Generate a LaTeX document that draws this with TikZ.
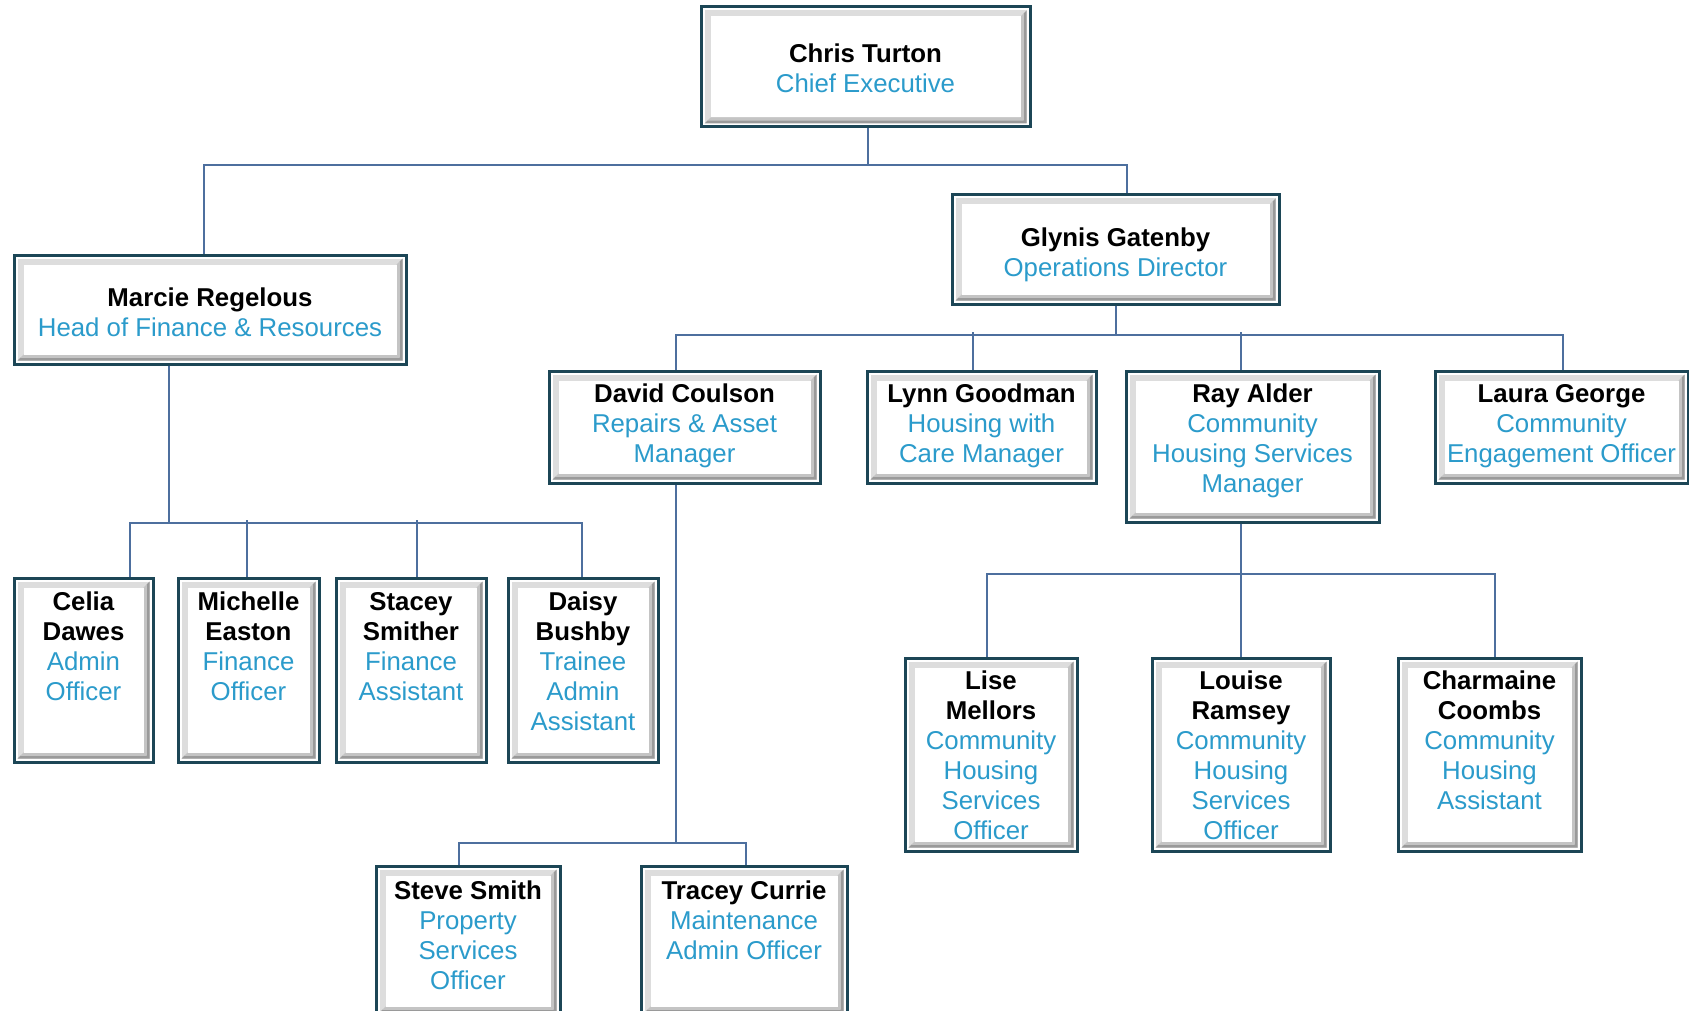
\documentclass[tikz,border=0pt]{standalone}
\usepackage{fontspec}
\setmainfont{Liberation Sans}
\definecolor{boxline}{HTML}{1C4656}
\definecolor{conncol}{HTML}{4D6F9E}
\definecolor{rolecol}{HTML}{2B9BCB}
\definecolor{bevlight}{HTML}{DDDDDD}
\definecolor{bevdark}{HTML}{9A9A9A}
\definecolor{bevmid}{HTML}{C4C4C4}
\tikzset{
 obox/.style={draw=boxline, line width=3pt, fill=white, inner sep=0pt},
 otext/.style={anchor=north, align=center, inner sep=0pt, font=\fontsize{25.8}{30}\selectfont},
 conn/.style={draw=conncol, line width=2pt},
}
\newcommand{\rl}[1]{\textcolor{rolecol}{#1}}
\newcommand{\orgbox}[7]{%
 \node[obox, minimum width=#4pt, minimum height=#5pt] (#1) at (#2pt,-#3pt) {};
 \fill[bevlight] ([shift={(5pt,-5pt)}]#1.north west) rectangle ([shift={(-5pt,5pt)}]#1.south east);
 \fill[bevdark] ([shift={(-5pt,-5pt)}]#1.north east) -- ([shift={(-5pt,5pt)}]#1.south east) -- ([shift={(5pt,5pt)}]#1.south west) -- ([shift={(8pt,8pt)}]#1.south west) -- ([shift={(-8pt,8pt)}]#1.south east) -- ([shift={(-8pt,-8pt)}]#1.north east) -- cycle;
 \fill[bevmid] ([shift={(-8pt,-8pt)}]#1.north east) -- ([shift={(-8pt,8pt)}]#1.south east) -- ([shift={(8pt,8pt)}]#1.south west) -- ([shift={(11pt,11pt)}]#1.south west) -- ([shift={(-11pt,11pt)}]#1.south east) -- ([shift={(-11pt,-11pt)}]#1.north east) -- cycle;
 \fill[white] ([shift={(11pt,-11pt)}]#1.north west) rectangle ([shift={(-11pt,11pt)}]#1.south east);
 \node[otext] (#1-t) at ([yshift=-#6pt]#1.north) {#7};
}
\begin{document}
\begin{tikzpicture}
\useasboundingbox (0pt,0pt) rectangle (1689pt,-1011pt);
\fill[white] (0pt,0pt) rectangle (1689pt,-1011pt);

\orgbox{chris}{865.5}{67}{329}{120}{38.5}{\textbf{Chris Turton}\\\rl{Chief Executive}}
\orgbox{glynis}{1115.5}{249.5}{327}{109}{34.5}{\textbf{Glynis Gatenby}\\\rl{Operations Director}}
\orgbox{marcie}{210}{309.5}{392}{109}{34.5}{\textbf{Marcie Regelous}\\\rl{Head of Finance \& Resources}}
\orgbox{david}{684.5}{427}{271}{112}{14.5}{\textbf{David Coulson}\\\rl{Repairs \& Asset}\\\rl{Manager}}
\orgbox{lynn}{981.5}{427}{229}{112}{14.5}{\textbf{Lynn Goodman}\\\rl{Housing with}\\\rl{Care Manager}}
\orgbox{ray}{1252.5}{446.5}{253}{151}{14.5}{\textbf{Ray Alder}\\\rl{Community}\\\rl{Housing Services}\\\rl{Manager}}
\orgbox{laura}{1561.5}{427}{253}{112}{14.5}{\textbf{Laura George}\\\rl{Community}\\\rl{Engagement Officer}}
\orgbox{celia}{83.5}{670}{139}{184}{15.5}{\textbf{Celia}\\\textbf{Dawes}\\\rl{Admin}\\\rl{Officer}}
\orgbox{michelle}{248.5}{670}{141}{184}{15.5}{\textbf{Michelle}\\\textbf{Easton}\\\rl{Finance}\\\rl{Officer}}
\orgbox{stacey}{411}{670}{150}{184}{15.5}{\textbf{Stacey}\\\textbf{Smither}\\\rl{Finance}\\\rl{Assistant}}
\orgbox{daisy}{583}{670}{150}{184}{15.5}{\textbf{Daisy}\\\textbf{Bushby}\\\rl{Trainee}\\\rl{Admin}\\\rl{Assistant}}
\orgbox{lise}{991}{754.5}{172}{193}{14.5}{\textbf{Lise}\\\textbf{Mellors}\\\rl{Community}\\\rl{Housing}\\\rl{Services}\\\rl{Officer}}
\orgbox{louise}{1241}{754.5}{178}{193}{14.5}{\textbf{Louise}\\\textbf{Ramsey}\\\rl{Community}\\\rl{Housing}\\\rl{Services}\\\rl{Officer}}
\orgbox{charmaine}{1489.5}{754.5}{183}{193}{14.5}{\textbf{Charmaine}\\\textbf{Coombs}\\\rl{Community}\\\rl{Housing}\\\rl{Assistant}}
\orgbox{steve}{468}{941}{184}{150}{16.5}{\textbf{Steve Smith}\\\rl{Property}\\\rl{Services}\\\rl{Officer}}
\orgbox{tracey}{744}{941}{206}{150}{16.5}{\textbf{Tracey Currie}\\\rl{Maintenance}\\\rl{Admin Officer}}

% junction coordinates
\coordinate (j1) at ([shift={(2.5pt,-37pt)}]chris.south);
\coordinate (j2) at ([shift={(0.5pt,-29pt)}]glynis.south);
\coordinate (j3) at ([shift={(-41pt,-157pt)}]marcie.south);
\coordinate (j4) at ([shift={(-8.5pt,-358pt)}]david.south);
\coordinate (j5) at ([shift={(-11.5pt,-50pt)}]ray.south);

% Chris -> Marcie, Glynis
\draw[conn] ([xshift=2.5pt]chris.south) -- (j1);
\draw[conn] ([xshift=-6pt]marcie.north) |- (j1) -| ([xshift=11.5pt]glynis.north);

% Glynis -> managers
\draw[conn] ([xshift=0.5pt]glynis.south) -- (j2);
\draw[conn] ([xshift=-8.5pt]david.north) |- (j2) -| ([xshift=1.5pt]laura.north);
\draw[conn] ([xshift=-8.5pt]lynn.north) -- ++(0pt,38pt);
\draw[conn] ([xshift=-11.5pt]ray.north) -- ++(0pt,38pt);

% Marcie -> finance team
\draw[conn] ([xshift=-41pt]marcie.south) -- (j3);
\draw[conn] ([xshift=46.5pt]celia.north) |- (j3) -| ([xshift=-1pt]daisy.north);
\draw[conn] ([xshift=-1.5pt]michelle.north) -- ++(0pt,57pt);
\draw[conn] ([xshift=6pt]stacey.north) -- ++(0pt,57pt);

% David -> Steve, Tracey
\draw[conn] ([xshift=-8.5pt]david.south) -- (j4);
\draw[conn] ([xshift=-9pt]steve.north) |- (j4) -| ([xshift=2pt]tracey.north);

% Ray -> housing team
\draw[conn] ([xshift=-11.5pt]ray.south) -- (j5);
\draw[conn] ([xshift=-4pt]lise.north) |- (j5) -| ([xshift=5.5pt]charmaine.north);
\draw[conn] (louise.north) -- ++(0pt,86pt);
\end{tikzpicture}
\end{document}
